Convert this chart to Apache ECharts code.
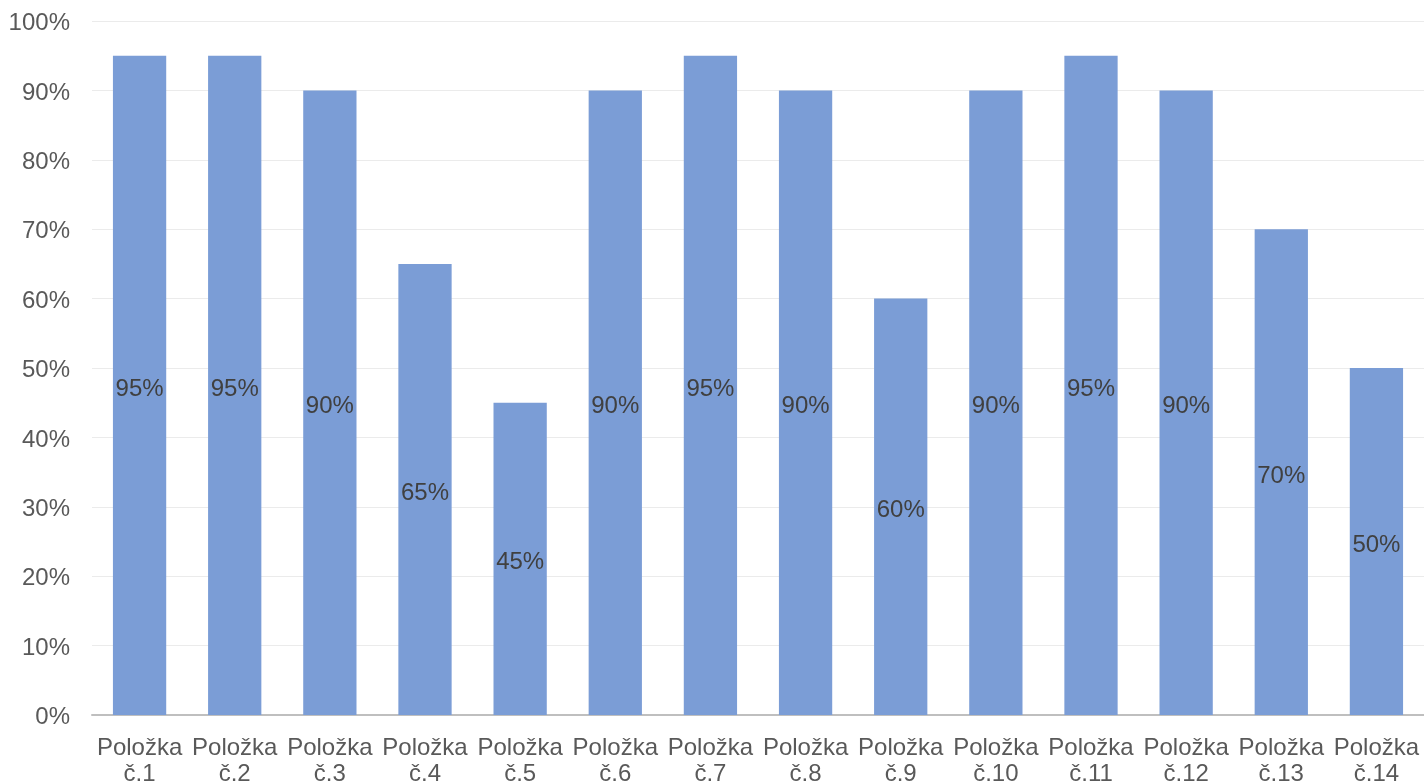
<!DOCTYPE html>
<html>
<head>
<meta charset="utf-8">
<script src="https://cdn.jsdelivr.net/npm/echarts@6/dist/echarts.min.js"></script>
<style>
  html, body { margin: 0; padding: 0; background: #ffffff; }
  #chart { width: 1424px; height: 782px; }
</style>
</head>
<body>
<div id="chart"></div>
<script>
// Item names (two-line labels) and their scores in percent
const categories = [
  'Položka\nč.1', 'Položka\nč.2', 'Položka\nč.3', 'Položka\nč.4', 'Položka\nč.5',
  'Položka\nč.6', 'Položka\nč.7', 'Položka\nč.8', 'Položka\nč.9', 'Položka\nč.10',
  'Položka\nč.11', 'Položka\nč.12', 'Položka\nč.13', 'Položka\nč.14'
];
const values = [95, 95, 90, 65, 45, 90, 95, 90, 60, 90, 95, 90, 70, 50];

const font = 'Liberation Sans, Arial, sans-serif';
const chart = echarts.init(document.getElementById('chart'));
chart.setOption({
  animation: false,
  grid: {
    left: 92, right: 0, top: 21, bottom: 67,
    containLabel: false, outerBoundsMode: 'none'
  },
  xAxis: {
    type: 'category',
    data: categories,
    axisLine: { lineStyle: { color: '#bfbfbf', width: 2 } },
    axisTick: { show: false },
    axisLabel: {
      color: '#595959', fontFamily: font, fontSize: 24, lineHeight: 26,
      margin: 20, interval: 0
    }
  },
  yAxis: {
    type: 'value',
    min: 0, max: 100, interval: 10,
    axisLine: { show: false },
    axisTick: { show: false },
    splitLine: { lineStyle: { color: '#ebebeb', width: 1 } },
    axisLabel: {
      margin: 22,
      formatter: v => '{t|' + v + '%}',
      rich: {
        t: {
          color: '#595959', fontFamily: font, fontSize: 24,
          padding: [5, 0, 0, 0]
        }
      }
    }
  },
  series: [{
    type: 'bar',
    data: values,
    barCategoryGap: '44%',
    itemStyle: { color: '#7b9dd6' },
    label: {
      show: true, position: 'inside', color: '#404040',
      fontFamily: font, fontSize: 24, formatter: '{c}%',
      offset: [0, 4]
    }
  }]
});
</script>
</body>
</html>
